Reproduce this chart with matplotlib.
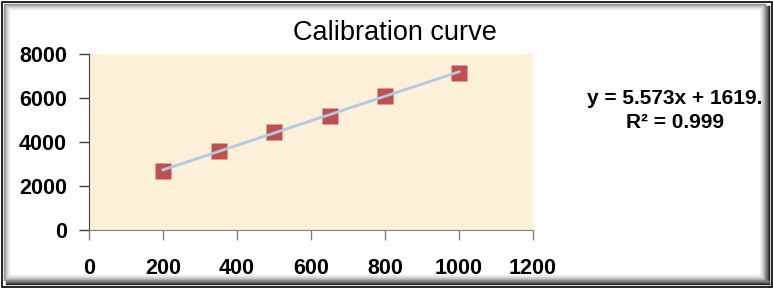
import matplotlib
matplotlib.use('Agg')
import matplotlib.pyplot as plt
from matplotlib.patches import Rectangle
import numpy as np

# data
conc = [200, 350, 500, 650, 800, 1000]
signal = [2680, 3590, 4450, 5200, 6080, 7150]
slope = 5.573
intercept = 1619.0
eq_text = 'y = 5.573x + 1619.'
r2_text = 'R² = 0.999'
xticks = [0, 200, 400, 600, 800, 1000, 1200]
yticks = [0, 2000, 4000, 6000, 8000]

W, H = 773, 288
plt.rcParams['font.family'] = ['Liberation Sans', 'DejaVu Sans']
fig = plt.figure(figsize=(W / 100, H / 100), dpi=100)
fig.patch.set_facecolor('white')


def box(x0, y0, x1, y1, color, lw=1.0):
    # rectangle given in pixel coords from top-left
    r = Rectangle((x0 / W, 1 - y1 / H), (x1 - x0) / W, (y1 - y0) / H,
                  transform=fig.transFigure, fill=False, edgecolor=color,
                  linewidth=lw, zorder=0)
    fig.add_artist(r)


# frame: thin black border + gray bevel
box(1.5, 1.5, W - 1.5, H - 1.5, 'black', 1.2)
greys = ['#8c8c8c', '#a8a8a8', '#c0c0c0', '#d2d2d2', '#e2e2e2', '#eeeeee']
for i, g in enumerate(greys):
    d = 4 + i
    box(d, d, W - d - 4, H - d - 4, g, 1.0)
# darker shadow on right/bottom
for i, g in enumerate(['#202020', '#404040', '#606060', '#808080']):
    x = W - 4 - i
    fig.add_artist(plt.Line2D([x / W, x / W], [1 - 6 / H, 4 / H + i / H],
                              transform=fig.transFigure, color=g, lw=1))
    y = H - 4 - i
    fig.add_artist(plt.Line2D([6 / W, (W - 4) / W], [1 - y / H, 1 - y / H],
                              transform=fig.transFigure, color=g, lw=1))

ax = fig.add_axes([89 / W, (H - 230) / H, (533 - 89) / W, (230 - 54) / H])
ax.set_facecolor('#fcf0d8')
ax.set_xlim(0, 1200)
ax.set_ylim(0, 8000)

xs = np.array([conc[0], conc[-1]])
ax.plot(xs, slope * xs + intercept, color='#b3c7e6', lw=2, zorder=3)
ax.plot(conc, signal, 's', color='#c0504d', markersize=11.5, mec='none', zorder=2)

ax.set_xticks(xticks)
ax.set_yticks(yticks)
ax.tick_params(axis='x', length=7, width=1, color='#808080', pad=13, labelsize=15.5)
ax.tick_params(axis='y', length=7, width=1, color='#404040', pad=9, labelsize=15.5)
for lab in ax.get_xticklabels() + ax.get_yticklabels():
    lab.set_fontweight('bold')
ax.spines['top'].set_visible(False)
ax.spines['right'].set_visible(False)
ax.spines['left'].set_color('#404040')
ax.spines['bottom'].set_color('#808080')

fig.text(395 / W, 1 - 33 / H, 'Calibration curve', ha='center', va='center', fontsize=19.5)
fig.text(675 / W, 1 - 98 / H, eq_text, ha='center', va='center', fontsize=15, fontweight='bold')
fig.text(675 / W, 1 - 122 / H, r2_text, ha='center', va='center', fontsize=15, fontweight='bold')

fig.savefig('out.png', dpi=100)
